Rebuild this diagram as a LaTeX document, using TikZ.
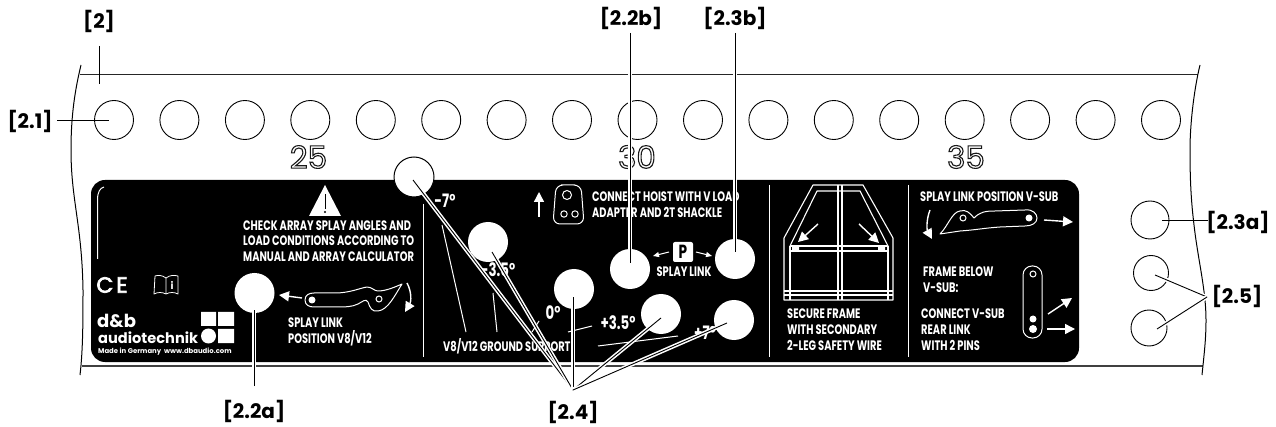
\documentclass[tikz,border=0pt]{standalone}
\usepackage{fontspec}
\setmainfont{Poppins}
\newfontfamily\cond[FakeStretch=0.72]{Poppins}
\usetikzlibrary{arrows.meta}
\newcommand{\outl}[1]{\special{pdf:code 0.1 G 1 Tr 1.1 w}#1\special{pdf:code 0 Tr}}
\newcommand{\wbold}[1]{\special{pdf:code 1 G 2 Tr 0.7 w}#1\special{pdf:code 0 Tr}}
\tikzset{
 hole/.style={circle,draw=black,line width=0.9pt,minimum size=#1,inner sep=0pt,fill=white},
 pin/.style={circle,fill=white,minimum size=40pt,inner sep=0pt},
 lbl/.style={font=\fontsize{20}{20}\selectfont\bfseries,inner sep=0pt},
 ptext/.style={font=\cond\fontsize{13.7}{13.7}\selectfont\bfseries,text=white,inner sep=0pt,anchor=west},
 angle/.style={font=\cond\fontsize{18.5}{18.5}\selectfont\bfseries,text=white,inner sep=0pt},
 num/.style={font=\fontsize{31}{31}\selectfont,inner sep=0pt},
 leader/.style={draw=black,line width=0.9pt,preaction={draw=white,line width=4pt}},
 thinline/.style={draw=black,line width=0.9pt},
 wline/.style={draw=white,line width=1pt},
 warrow/.style={draw=white,line width=1.4pt,-{Triangle[length=10pt,width=10pt]}},
 edge/.style={draw=black,line width=1pt},
}
\begin{document}
\begin{tikzpicture}[x=1pt,y=-1pt]
\useasboundingbox (0,0) rectangle (1276,427);
% body edges
\draw[edge,draw=black!85] (80,75) -- (1198,75);
\draw[edge,line width=1.6pt,draw=black!75] (82,366) -- (1203,366);
\draw[edge] (81,65) .. controls (75,90) and (71,115) .. (71,150) .. controls (71,200) and (82,225) .. (83,290) .. controls (83,320) and (83,350) .. (80,375);
\draw[edge] (1200,65) .. controls (1195,85) and (1190,120) .. (1190,150) .. controls (1190,180) and (1191,200) .. (1194,225) .. controls (1198,260) and (1206,290) .. (1206,320) .. controls (1206,340) and (1204,355) .. (1202,375);
% top holes
\foreach \i/\x in {1/114,2/179.4,3/244.9,4/310.3,5/375.8,6/441.2,7/506.6,8/572,9/637.5,10/703,11/768.4,12/833.8,13/899.2,14/964.7,15/1030.1,16/1095.6,17/1161}
  \node[hole=39pt] (t\i) at (\x,120) {};
\node[hole=38pt] (r1) at (1150,220) {};
\node[hole=35pt] (r2) at (1151,273) {};
\node[hole=36pt] (r3) at (1149,328) {};
% numbers
\node[num] (n25) at (308.5,157) {\outl{25}};
\node[num] (n30) at (637,157) {\outl{30}};
\node[num] (n35) at (966,157) {\outl{35}};
% plate
\fill[black,rounded corners=14pt] (91,180) rectangle (1079,362);
\draw[wline] (97.5,259) -- (97.5,200) .. controls (97.5,192) and (100,188) .. (104,187);
\draw[wline] (423,204) -- (423,357);
\draw[wline] (769,185) -- (769,357);
\draw[wline] (908,185) -- (908,357);
% warning
\fill[white] (325,185) -- (341,216) -- (309,216) -- cycle;
\draw[black,line width=1pt] (325,194) -- (325,209);
\fill[black] (325,212) circle (1.1);
\node[ptext] (w1) at (243,226) {CHECK ARRAY SPLAY ANGLES AND};
\node[ptext] (w2) at (243,241) {LOAD CONDITIONS ACCORDING TO};
\node[ptext] (w3) at (243,257) {MANUAL AND ARRAY CALCULATOR};
% CE and book
\node[inner sep=0pt,text=white,font=\fontsize{22}{22}\selectfont] (ce) at (112,285) {\wbold{C\kern3pt E}};
\draw[white,line width=0.8pt,line join=round] (166,278) .. controls (162,275) and (158,275) .. (155,276) -- (154,294) .. controls (158,292) and (162,292) .. (166,294) .. controls (170,292) and (174,292) .. (178,294) -- (178,276) .. controls (174,275) and (170,275) .. (166,278) -- (166,294);
\node[inner sep=0pt,text=white,font=\fontsize{10}{10}\selectfont\bfseries] (bi) at (172,285) {i};
% logo
\node[inner sep=0pt,text=white,anchor=west,font=\fontsize{18}{18}\selectfont\bfseries] (l1) at (97,321) {d\&b};
\node[inner sep=0pt,text=white,anchor=west,font=\fontsize{14.6}{14.6}\selectfont\bfseries] (l2) at (98,338) {audiotechnik};
\node[inner sep=0pt,text=white,anchor=west,font=\fontsize{6.9}{6.9}\selectfont\bfseries] (l3) at (98,351.5) {Made in Germany\ \ www.dbaudio.com};
\fill[white] (201,312) rectangle (216,326) (218,312) rectangle (234,326) (218,329) rectangle (234,343);
\fill[white] (208.5,336) circle (7.5);
% splay link V8
\draw[white,line width=1pt,fill=black,line join=round] (305,300) .. controls (305,295) and (309,293) .. (314,293) -- (335,293) .. controls (350,293) and (360,288) .. (367,287) .. controls (372,287) and (374,291) .. (378,291) .. controls (386,291) and (395,287) .. (402,284) .. controls (395,295) and (388,310) .. (378,311) .. controls (372,312) and (370,308) .. (368,302) .. controls (366,298) and (362,302) .. (358,304) .. controls (352,307) and (345,307) .. (335,307) -- (314,307) .. controls (309,307) and (305,305) .. (305,300) -- cycle;
\fill[white] (312,300) circle (3.5);
\draw[white,line width=1pt] (379,299) circle (3);
\coordinate (a1s) at (302,298); \coordinate (a1e) at (279,295);
\draw[warrow] (a1s) -- (a1e);
\draw[warrow] (407,283) .. controls (412,292) and (411,302) .. (405,312);
\node[ptext] (s1) at (288,323) {SPLAY LINK};
\node[ptext] (s2) at (288,338) {POSITION V8/V12};
% ground support
\node[ptext] (gs) at (443,346) {V8/V12 GROUND SUPPORT};
\node[angle] (m7) at (445,201) {-7°};
\node[angle] (m3) at (498,270) {-3.5°};
\node[angle] (a0) at (553,313) {0°};
\node[angle] (p3) at (618,323) {+3.5°};
\node[angle] (p7) at (705,333) {+7°};
\draw[wline] (442,225) -- (466,332);
\draw[wline] (493,293) -- (497,332);
\draw[wline] (539,321) -- (532,332);
\draw[wline] (592,326) -- (568,332);
\draw[wline] (678,336) -- (598,346);
% hoist
\draw[warrow] (539,217) -- (539,192);
\draw[white,line width=1pt,rounded corners=7pt] (568,185) -- (581,185) -- (584,224) -- (553,224) -- (556,185) -- cycle;
\draw[white,line width=1pt] (567,195) circle (4.5) (564,214) circle (3.2) (575,214) circle (3.2);
\node[ptext] (h1) at (592,197) {CONNECT HOIST WITH V LOAD};
\node[ptext] (h2) at (592,212) {ADAPTER AND 2T SHACKLE};
% P
\node[fill=white,rounded corners=2pt,minimum width=20pt,minimum height=20pt,inner sep=0pt,font=\cond\fontsize{19}{19}\selectfont\bfseries] (pb) at (683,252) {P};
\draw[draw=white,line width=1pt,-{Triangle[length=6pt,width=5pt]}] (669,252) -- (653,256);
\draw[draw=white,line width=1pt,-{Triangle[length=6pt,width=5pt]}] (696,252) -- (712,256);
\node[ptext,anchor=center] (sl) at (684,272) {SPLAY LINK};
% frame
\draw[white,line width=1.1pt,line join=round] (784,300) -- (784,238) -- (813,185) -- (863,185) -- (893,238) -- (893,300) -- cycle;
\draw[white,line width=1.1pt,line join=round] (790,246) -- (817,191) -- (860,191) -- (888,246);
\draw[white,line width=1.1pt] (838,185) -- (838,300) (842,185) -- (842,300);
\draw[white,line width=1.1pt] (790,246) -- (888,246) (790,251) -- (888,251);
\draw[white,line width=1.1pt] (790,246) -- (790,300) (888,246) -- (888,300);
\draw[white,line width=1.1pt] (784,291) -- (893,291) (784,295) -- (893,295);
\fill[white] (792,247) rectangle (799,250) (878,247) rectangle (885,250);
\draw[warrow] (818,224) -- (798,242);
\draw[warrow] (859,224) -- (879,243);
\node[ptext] (f1) at (787,314) {SECURE FRAME};
\node[ptext] (f2) at (787,330) {WITH SECONDARY};
\node[ptext] (f3) at (787,345) {2-LEG SAFETY WIRE};
% splay link V-SUB
\node[ptext] (v1) at (920,197) {SPLAY LINK POSITION V-SUB};
\draw[white,line width=1pt,fill=black,line join=round] (940,234) .. controls (948,226) and (952,212) .. (960,211) .. controls (966,209) and (970,213) .. (974,218) .. controls (980,212) and (985,211) .. (995,211) -- (1025,210) .. controls (1033,209) and (1037,214) .. (1037,218) .. controls (1037,223) and (1032,226) .. (1025,226) -- (1000,227) .. controls (985,228) and (975,230) .. (960,231) -- cycle;
\fill[white] (1029,218) circle (3.5);
\draw[white,line width=1pt] (963,218) circle (3);
\draw[warrow] (930,210) .. controls (926,220) and (927,230) .. (932,239);
\draw[warrow] (1044,220) -- (1073,222);
\node[ptext] (v2) at (923,272) {FRAME BELOW};
\node[ptext] (v3) at (923,288) {V-SUB:};
\node[ptext] (v4) at (921,314) {CONNECT V-SUB};
\node[ptext] (v5) at (921,330) {REAR LINK};
\node[ptext] (v6) at (921,345) {WITH 2 PINS};
\draw[white,line width=1pt,rounded corners=9pt] (1023,266) rectangle (1042,338);
\draw[white,line width=1pt] (1033,274) circle (3);
\fill[white] (1033,319) circle (3.5) (1033,329) circle (4);
\draw[warrow] (1048,314) -- (1072,298);
\draw[warrow] (1047,329) -- (1075,329);
% pins
\node[pin] (p22a) at (254.5,293) {};
\node[pin,draw=black,line width=1pt] (p4a) at (414,177) {};
\node[pin] (p4b) at (488,242) {};
\node[pin] (p4c) at (574,289) {};
\node[pin] (p22b) at (630,269) {};
\node[pin] (p23b) at (735,259) {};
\node[pin] (p4d) at (661,314) {};
\node[pin] (p4e) at (734,320) {};
% labels
\node[lbl] (L2) at (99,21) {[2]};
\node[lbl] (L21) at (30,121) {[2.1]};
\node[lbl] (L22a) at (254,411) {[2.2a]};
\node[lbl] (L22b) at (631,18) {[2.2b]};
\node[lbl] (L23b) at (735,18) {[2.3b]};
\node[lbl] (L23a) at (1238,222) {[2.3a]};
\node[lbl] (L24) at (573,412) {[2.4]};
\node[lbl] (L25) at (1237,296) {[2.5]};
% leaders
\coordinate (c2a) at (99,46); \coordinate (c2b) at (99,84);
\coordinate (c21) at (109,120); \coordinate (c21s) at (57,120);
\coordinate (c22a) at (254,310); \coordinate (c22as) at (254,386);
\coordinate (c22b) at (630,263); \coordinate (c22bs) at (630,33);
\coordinate (c23b) at (735,252); \coordinate (c23bs) at (735,33);
\coordinate (c23a) at (1162,220); \coordinate (c23as) at (1208,220);
\coordinate (ap24) at (573,390);
\coordinate (e4a) at (413,180); \coordinate (e4b) at (492,252); \coordinate (e4c) at (573,297); \coordinate (e4d) at (661,318); \coordinate (e4e) at (727,323);
\coordinate (ap25) at (1207,297); \coordinate (e5a) at (1155,275); \coordinate (e5b) at (1157,329);
\draw[thinline] (c2a) -- (c2b);
\draw[thinline] (c21s) -- (c21);
\draw[leader] (c22as) -- (c22a);
\draw[leader] (c22bs) -- (c22b);
\draw[leader] (c23bs) -- (c23b);
\draw[thinline] (c23as) -- (c23a);
\foreach \e in {e4a,e4b,e4c,e4d,e4e} \draw[leader] (ap24) -- (\e);
\draw[leader] (ap25) -- (e5a);
\draw[leader] (ap25) -- (e5b);
\end{tikzpicture}
\end{document}
